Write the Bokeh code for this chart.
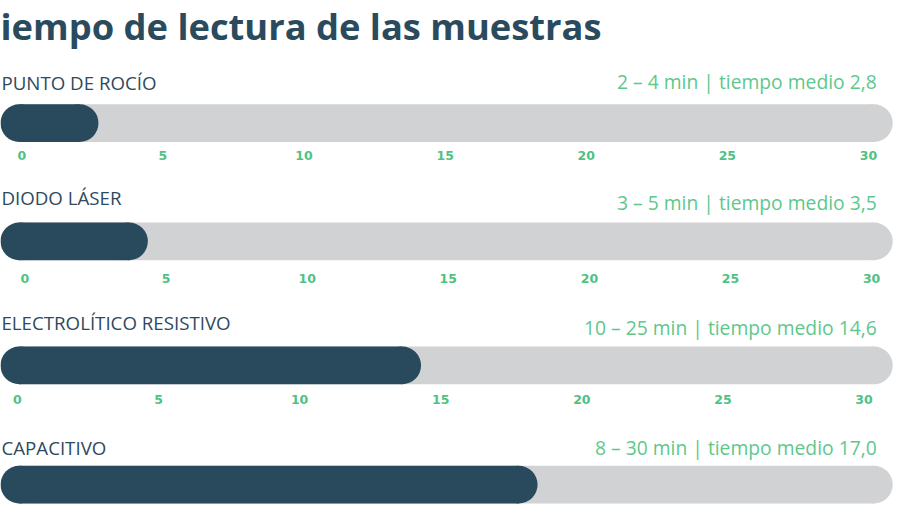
from bokeh.plotting import figure
from bokeh.models import Range1d, ColumnDataSource
from bokeh.embed import file_html
from bokeh.resources import INLINE
from bokeh.core.properties import value

# ---------------- data ----------------
title_text = "iempo de lectura de las muestras"
categories = ["PUNTO DE ROCÍO", "DIODO LÁSER", "ELECTROLÍTICO RESISTIVO", "CAPACITIVO"]
range_min = [2, 3, 10, 8]            # min
range_max = [4, 5, 25, 30]           # min
mean_time = [2.8, 3.5, 14.6, 17.0]   # tiempo medio
bar_values = [2.73, 4.48, 14.16, 18.29]  # filled length as drawn in the picture (min)
tick_values = [0, 5, 10, 15, 20, 25, 30]
tick_labels = [str(t) for t in tick_values]
rows_with_axis = [True, True, True, False]

# ---------------- layout / style ----------------
W, H = 905, 504
REF_W, REF_H = 921, 520
PX_PER_UNIT = 28.72
ZERO_PX = 21.3
TEXT_SHIFT = -7.0


def ux(px):
    return (px - ZERO_PX) / PX_PER_UNIT


DARK = "#294a5d"
GREY = "#d1d2d4"
TEXT_DARK = "#2e4a5e"
GREEN = "#5ec88c"
TICK_GREEN = "#4fc283"

label_base = [92 + TEXT_SHIFT, 210 + TEXT_SHIFT, 339 + TEXT_SHIFT, 468 + TEXT_SHIFT]
info_base = [90.7 + TEXT_SHIFT, 215.7 + TEXT_SHIFT, 344 + TEXT_SHIFT, 467.7 + TEXT_SHIFT]
bar_top = [107, 229, 357, 480]
bar_h = 39.0
tick_mid = [160, 286.7, 411.7]
tick_dx = [0.4, 3.6, -4.1]

centers = [t + bar_h / 2 for t in bar_top]
track_l = ux(0)
track_r = ux(908)
r_screen = bar_h * H / REF_H / 2.0
r_x = r_screen * (REF_W / W) / PX_PER_UNIT

p = figure(width=W, height=H,
           x_range=Range1d(ux(0), ux(REF_W)), y_range=Range1d(REF_H, 0),
           x_axis_location=None, y_axis_location=None,
           output_backend="svg", toolbar_location=None, min_border=0)
p.grid.visible = False
p.outline_line_color = None
p.background_fill_color = "white"
p.border_fill_color = "white"

# track (grey, rounded)
p.hbar(y=centers, left=track_l + r_x, right=track_r - r_x, height=bar_h,
       fill_color=GREY, line_color=None)
p.scatter(x=[track_l + r_x] * 4 + [track_r - r_x] * 4, y=centers * 2,
          size=2 * r_screen, fill_color=GREY, line_color=None)

# filled part (dark, rounded)
fill_src = ColumnDataSource(dict(
    y=centers,
    left=[track_l + r_x] * 4,
    right=[v - r_x for v in bar_values],
))
p.hbar(y="y", left="left", right="right", height=bar_h, source=fill_src,
       fill_color=DARK, line_color=None)
p.scatter(x=[track_l + r_x] * 4 + [v - r_x for v in bar_values], y=centers * 2,
          size=2 * r_screen, fill_color=DARK, line_color=None)

# title
p.text(x=[ux(0)], y=[26], text=[title_text], text_font=value("Open Sans"),
       text_font_style="bold", text_font_size="36.3px", text_color="#2a4a5e",
       text_baseline="alphabetic", text_align="left")

# category labels
p.text(x=[ux(1)] * 4, y=label_base, text=categories, text_font=value("Open Sans"),
       text_font_size="18.7px", text_color=TEXT_DARK,
       text_baseline="alphabetic", text_align="left")

# info labels
info = [f"{a} – {b} min | tiempo medio {m:.1f}".replace(".", ",")
        for a, b, m in zip(range_min, range_max, mean_time)]
p.text(x=[ux(891.7)] * 4, y=info_base, text=info, text_font=value("Open Sans"),
       text_font_size="19.3px", text_color=GREEN,
       text_baseline="alphabetic", text_align="right")

# tick labels under the first three bars
tx, ty, tt, toff = [], [], [], []
for i, has_axis in enumerate(rows_with_axis):
    if not has_axis:
        continue
    for v, lab in zip(tick_values, tick_labels):
        tx.append(v)
        ty.append(tick_mid[i])
        tt.append(lab)
        toff.append(tick_dx[i] * W / REF_W)
tick_src = ColumnDataSource(dict(x=tx, y=ty, text=tt, xo=toff))
p.text(x="x", y="y", text="text", x_offset="xo", source=tick_src,
       text_font=value("DejaVu Sans"), text_font_style="bold",
       text_font_size="12.5px", text_color=TICK_GREEN,
       text_baseline="middle", text_align="center")

open("out.html", "w").write(file_html(p, INLINE))
